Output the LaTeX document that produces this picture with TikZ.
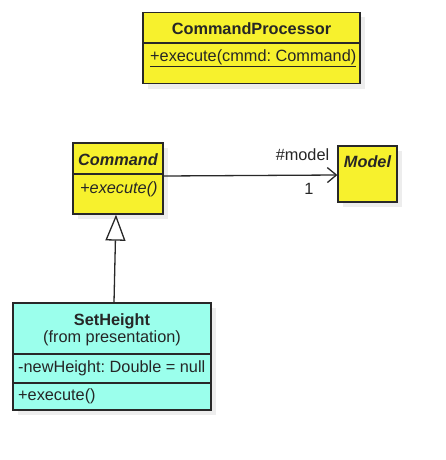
\documentclass[tikz,border=0pt]{standalone}
\usepackage{fontspec}
\setmainfont{Liberation Sans}
\usetikzlibrary{arrows.meta}
\usetikzlibrary{shadows}
\definecolor{umlyellow}{RGB}{247,241,45}
\definecolor{umlcyan}{RGB}{155,255,236}
\definecolor{umlline}{RGB}{40,40,40}
\frenchspacing

\begin{document}
\begin{tikzpicture}[x=1pt, y=-1pt,
  cls/.style={draw=umlline, line width=1.3pt, inner sep=0pt,
    drop shadow={shadow xshift=5pt, shadow yshift=-5pt, fill=black, opacity=.07}},
  txt/.style={inner sep=0pt, text=black!85, font=\fontsize{16.3}{19}\selectfont},
  btxt/.style={txt, font=\fontsize{16.3}{19}\selectfont\bfseries},
  sep/.style={draw=umlline, line width=1.3pt}]
\useasboundingbox (0,0) rectangle (446,460);
% classes
\node[cls, fill=umlyellow, minimum width=217pt, minimum height=71pt] (proc) at (251.5,48) {};
\node[cls, fill=umlyellow, minimum width=90pt, minimum height=71pt] (cmd) at (118,178.5) {};
\node[cls, fill=umlyellow, minimum width=59pt, minimum height=56pt] (model) at (367.5,174) {};
\node[cls, fill=umlcyan, minimum width=198pt, minimum height=107pt] (sh) at (112,356.5) {};
% compartments
\draw[sep] (proc.west |- 0,43) -- (proc.east |- 0,43);
\draw[sep] (cmd.west |- 0,174) -- (cmd.east |- 0,174);
\draw[sep] (sh.west |- 0,354) -- (sh.east |- 0,354);
\draw[sep] (sh.west |- 0,383) -- (sh.east |- 0,383);
% texts
\node[btxt, anchor=base] (procname) at (251.5,34.5) {CommandProcessor};
\node[txt, anchor=base west] (procop) at (150,61.5) {\underline{+execute(cmmd: Command)}};
\node[btxt, anchor=base] (cmdname) at (118,165) {\itshape Command};
\node[txt, anchor=base west] (cmdop) at (80,193) {\itshape +execute()};
\node[btxt, anchor=base] (modelname) at (367.5,167.5) {\itshape Model};
\node[btxt, anchor=base] (shname) at (112,325) {SetHeight};
\node[txt, anchor=base] (shpkg) at (112,342.5) {(from presentation)};
\node[txt, anchor=base west] (shattr) at (18,372.5) {-newHeight: Double = null};
\node[txt, anchor=base west] (shop) at (18,400.5) {+execute()};
% relations
\draw[umlline, line width=1.3pt, -{Straight Barb[length=9pt, width=15pt]}]
  ([yshift=2.5pt]cmd.east) -- ([yshift=-1pt]model.west);
\node[txt, anchor=base] (role) at (302.5,160.5) {\#model};
\node[txt, anchor=base] (mult) at (309,194) {1};
\draw[umlline, line width=1.3pt, -{Triangle[open, fill=white, length=26pt, width=20pt]}]
  ([xshift=2pt]sh.north) -- ([xshift=-2pt]cmd.south);
\end{tikzpicture}
\end{document}
